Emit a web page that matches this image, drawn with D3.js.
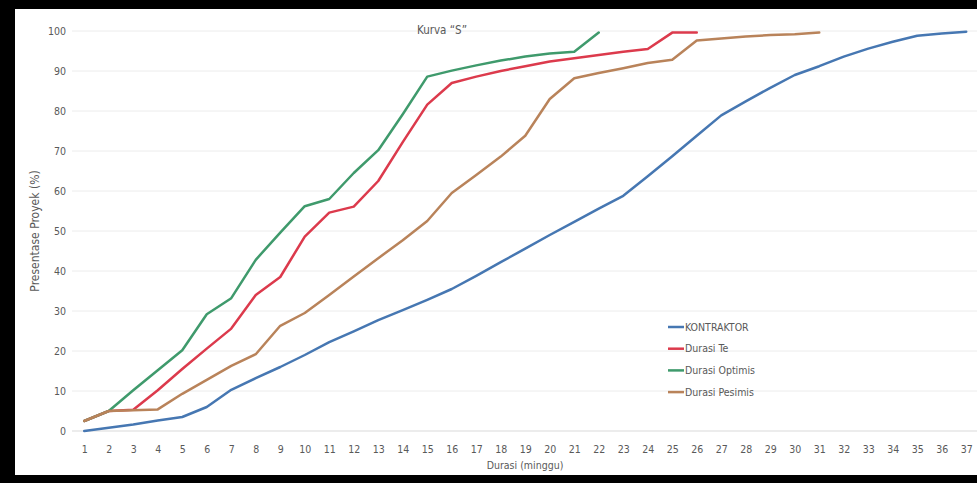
<!DOCTYPE html>
<html>
<head>
<meta charset="utf-8">
<script src="https://cdn.jsdelivr.net/npm/d3@7/dist/d3.min.js"></script>
<style>
  html, body { margin: 0; padding: 0; background: #fff; }
  svg { display: block; }
  text { font-family: "Liberation Sans Narrow", "DejaVu Sans Condensed", "Liberation Sans", sans-serif; fill: #595959; }
</style>
</head>
<body>
<svg id="chart" width="977" height="483"></svg>
<script>
// Weeks on the category axis
const weeks = d3.range(1, 38);
const yTicks = [0, 10, 20, 30, 40, 50, 60, 70, 80, 90, 100];

// Cumulative progress (%) per week for each schedule
const kontraktor = [0, 0.8, 1.6, 2.6, 3.5, 6, 10.3, 13.2, 16, 19, 22.2, 24.9, 27.7, 30.2, 32.8, 35.5, 38.8, 42.2, 45.6, 49, 52.3, 55.6, 58.8, 63.7, 68.7, 73.8, 78.9, 82.4, 85.8, 89, 91.2, 93.6, 95.6, 97.3, 98.8, 99.4, 99.8];
const durasiTe = [2.5, 5, 5.3, 10.2, 15.5, 20.6, 25.6, 34, 38.5, 48.6, 54.6, 56.1, 62.5, 72.2, 81.6, 87, 88.6, 90, 91.2, 92.4, 93.2, 94, 94.8, 95.5, 99.6, 99.6];
const durasiOptimis = [2.5, 5, 10.2, 15.2, 20.2, 29.2, 33.2, 42.8, 49.6, 56.2, 58, 64.5, 70.2, 79.2, 88.6, 90.1, 91.4, 92.6, 93.6, 94.4, 94.8, 99.6];
const durasiPesimis = [2.5, 5, 5.2, 5.4, 9.3, 12.8, 16.3, 19.2, 26.3, 29.5, 34, 38.6, 43.2, 47.7, 52.5, 59.5, 64, 68.6, 73.8, 83, 88.2, 89.5, 90.7, 92, 92.8, 97.6, 98.1, 98.6, 99, 99.2, 99.6];

const seriesNames = ["KONTRAKTOR", "Durasi Te", "Durasi Optimis", "Durasi Pesimis"];
const seriesColors = ["#4677b2", "#dc3a4c", "#3f9a6c", "#b9835a"];
const seriesValues = [kontraktor, durasiTe, durasiOptimis, durasiPesimis];

const svg = d3.select("#chart");
const W = 977, H = 483;

// dark frame around the white chart area
svg.append("rect").attr("x", 0).attr("y", 0).attr("width", W).attr("height", H).attr("fill", "#000");
svg.append("rect").attr("x", 15).attr("y", 9).attr("width", W - 15).attr("height", 466).attr("fill", "#fff");

const plotLeft = 72, step = 24.5;
const x = d3.scalePoint()
  .domain(weeks)
  .range([plotLeft, plotLeft + step * weeks.length])
  .padding(0.5);
const y = d3.scaleLinear().domain([0, 100]).range([431, 31]);

// horizontal gridlines
svg.append("g")
  .selectAll("line")
  .data(yTicks)
  .join("line")
  .attr("x1", plotLeft)
  .attr("x2", W)
  .attr("y1", d => y(d))
  .attr("y2", d => y(d))
  .attr("stroke", d => d === 0 ? "#d9d9d9" : "#ececec")
  .attr("stroke-width", 1);

const labelFont = "'Liberation Sans Narrow', 'DejaVu Sans Condensed', sans-serif";

// y axis labels
const yAxis = d3.axisLeft(y).tickValues(yTicks).tickSize(0).tickPadding(0);
const gy = svg.append("g").attr("transform", "translate(66,0)").call(yAxis);
gy.select(".domain").remove();
gy.selectAll("text").attr("font-size", 10.5).style("fill", "#595959").style("font-family", labelFont);

// x axis labels
const xAxis = d3.axisBottom(x).tickSize(0).tickPadding(0);
const gx = svg.append("g").attr("transform", "translate(0,446)").call(xAxis);
gx.select(".domain").remove();
gx.selectAll("text").attr("font-size", 10.5).style("fill", "#595959").style("font-family", labelFont);

// lines
const line = d3.line()
  .x((d, i) => x(weeks[i]))
  .y(d => y(d));

svg.append("g")
  .selectAll("path")
  .data(seriesValues)
  .join("path")
  .attr("d", d => line(d))
  .attr("fill", "none")
  .attr("stroke", (d, i) => seriesColors[i])
  .attr("stroke-width", 2.5)
  .attr("stroke-linejoin", "round")
  .attr("stroke-linecap", "round");

// title
svg.append("text")
  .attr("x", 442).attr("y", 34)
  .attr("text-anchor", "middle")
  .attr("font-size", 11.5)
  .text("Kurva \u201CS\u201D");

// axis titles
svg.append("text")
  .attr("transform", "translate(39,231) rotate(-90)")
  .attr("text-anchor", "middle")
  .attr("font-size", 12)
  .text("Presentase Proyek (%)");

svg.append("text")
  .attr("x", 525).attr("y", 469)
  .attr("text-anchor", "middle")
  .attr("font-size", 10.5)
  .text("Durasi (minggu)");

// legend
const legend = svg.append("g").attr("transform", "translate(668,327)");
const rows = legend.selectAll("g")
  .data(seriesNames)
  .join("g")
  .attr("transform", (d, i) => `translate(0,${i * 21.7})`);
rows.append("line")
  .attr("x1", 0).attr("x2", 16)
  .attr("stroke", (d, i) => seriesColors[i])
  .attr("stroke-width", 2.5);
rows.append("text")
  .attr("x", 17).attr("y", 3.5)
  .attr("font-size", 10.5)
  .text(d => d);
</script>
</body>
</html>
